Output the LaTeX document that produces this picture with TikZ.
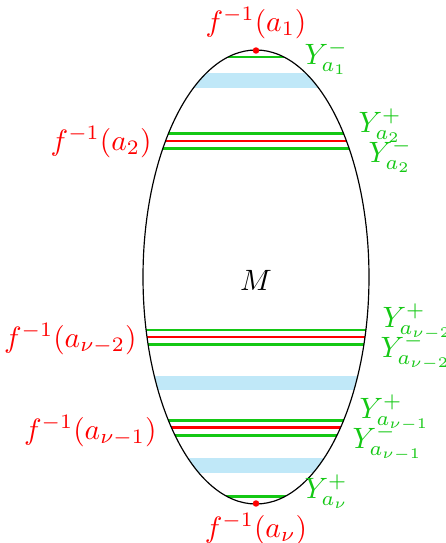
\documentclass[tikz,border=0pt]{standalone}
\begin{document}
\begin{tikzpicture}[x=0.34pt,y=-0.34pt,
  every node/.style={font=\fontsize{9.6}{11.5}\selectfont},
  gline/.style={draw=ygreen,line width=0.9pt},
  rline/.style={draw=red,line width=0.8pt},
  band/.style={fill=bandblue},
  rlab/.style={text=red,inner sep=1pt},
  glab/.style={text=ygreen,inner sep=1pt,anchor=west},
  rdot/.style={fill=red,circle,inner sep=0pt,minimum size=2.2pt}]
\definecolor{ygreen}{RGB}{20,200,20}
\definecolor{bandblue}{RGB}{192,232,248}
\useasboundingbox (0,0) rectangle (446,543);
\begin{scope}
  \clip (256,277) ellipse [x radius=38.42pt, y radius=77.18pt];
  \fill[band] (100,73) rectangle (420,88);
  \fill[band] (100,376) rectangle (420,390);
  \fill[band] (100,458) rectangle (420,473);
  \draw[gline] (100,57) -- (420,57);
  \draw[gline] (100,133.5) -- (420,133.5);
  \draw[rline] (100,141) -- (420,141);
  \draw[gline] (100,148.5) -- (420,148.5);
  \draw[gline] (100,330) -- (420,330);
  \draw[rline] (100,337) -- (420,337);
  \draw[gline] (100,344.5) -- (420,344.5);
  \draw[gline] (100,420.5) -- (420,420.5);
  \draw[rline] (100,427.5) -- (420,427.5);
  \draw[gline] (100,435.5) -- (420,435.5);
  \draw[gline] (100,496.5) -- (420,496.5);
\end{scope}
\draw[line width=0.4pt] (256,277) ellipse [x radius=38.42pt, y radius=77.18pt];
\node[rdot] (top) at (256,50.5) {};
\node[rdot] (bot) at (256,503.5) {};
\node (M) at (256,280) {$M$};
\node[rlab,anchor=south] (l1) at (256,42) {$f^{-1}(a_1)$};
\node[rlab,anchor=east] (l2) at (155,142) {$f^{-1}(a_2)$};
\node[rlab,anchor=east] (l3) at (140,339) {$f^{-1}(a_{\nu-2})$};
\node[rlab,anchor=east] (l4) at (160,431) {$f^{-1}(a_{\nu-1})$};
\node[rlab,anchor=north] (l5) at (256,510) {$f^{-1}(a_{\nu})$};
\node[glab] (y1m) at (301,58) {$Y^{-}_{a_1}$};
\node[glab] (y2p) at (355,126) {$Y^{+}_{a_2}$};
\node[glab] (y2m) at (365,156) {$Y^{-}_{a_2}$};
\node[glab] (y3p) at (379,322) {$Y^{+}_{a_{\nu-2}}$};
\node[glab] (y3m) at (377,352) {$Y^{-}_{a_{\nu-2}}$};
\node[glab] (y4p) at (356,413) {$Y^{+}_{a_{\nu-1}}$};
\node[glab] (y4m) at (349,443) {$Y^{-}_{a_{\nu-1}}$};
\node[glab] (y5p) at (301,492) {$Y^{+}_{a_{\nu}}$};
\end{tikzpicture}
\end{document}
